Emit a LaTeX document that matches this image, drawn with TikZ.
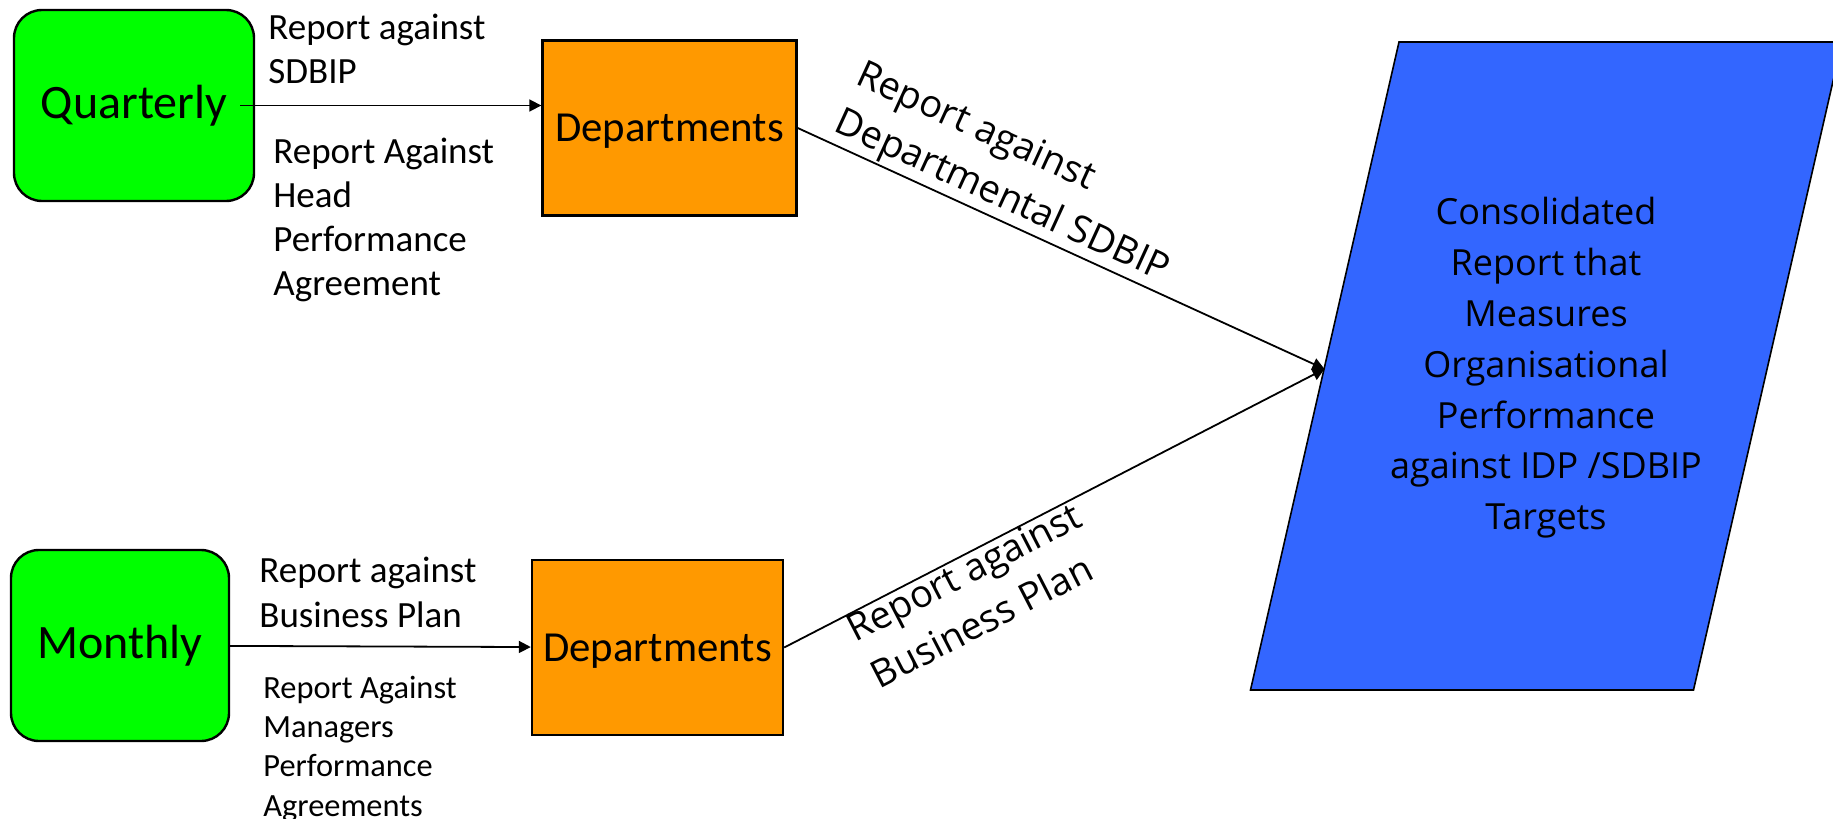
\documentclass[tikz,border=0pt]{standalone}
\usepackage{fontspec}
\setmainfont{Carlito}
\newfontfamily\opensans{Open Sans}
\usetikzlibrary{arrows.meta}
\definecolor{periodgreen}{HTML}{00FF00}
\definecolor{deptorange}{HTML}{FF9900}
\definecolor{reportblue}{HTML}{3366FF}

\begin{document}
\begin{tikzpicture}[x=0.5pt,y=-0.5pt,
	period_node/.style={draw=black,line width=1.2pt,fill=periodgreen,rounded corners=14pt,minimum height=95.5pt,inner sep=0pt,font=\fontsize{24}{28}\selectfont},
	dept_node/.style={draw=black,line width=1.2pt,fill=deptorange,minimum width=127pt,minimum height=87.5pt,inner sep=0pt,text depth=0pt,font=\fontsize{21.4}{25}\selectfont},
	note_node/.style={align=left,inner sep=0pt,anchor=west,font=\fontsize{18.5}{22}\selectfont},
	small_note_node/.style={align=left,inner sep=0pt,anchor=west,font=\fontsize{16.2}{19.6}\selectfont},
	flow_label/.style={sloped,align=left,font=\opensans\fontsize{19}{26}\selectfont},
	flow_arrow/.style={line width=0.9pt,-{Triangle[length=6pt,width=6pt]}}]

		\useasboundingbox (0,0) rectangle (1833,819);

		\node[period_node,minimum width=120pt] (quarterly) at (134,105.5) {Quarterly};
		\node[period_node,minimum width=109pt] (monthly) at (120,645.5) {Monthly};
		\node[dept_node] (dept_q) at (669.5,128) {Departments};
		\node[dept_node,minimum width=125.5pt] (dept_m) at (657.5,647.5) {Departments};

		\filldraw[fill=reportblue,line width=0.8pt] (1399,42) -- (1842,42) -- (1693.5,690) -- (1250.5,690) -- cycle;
		\node[align=center,font=\opensans\fontsize{18}{25.4}\selectfont] (consolidated) at (1546,368) {Consolidated\\Report that\\Measures\\Organisational\\Performance\\against IDP /SDBIP\\Targets};
		\coordinate (tip) at (1324.5,369);

		\node[note_node] (sdbip_note) at (268,48.5) {Report against\\SDBIP};
		\node[note_node] (head_note) at (273,220) {Report Against\\Head\\Performance\\Agreement};
		\node[note_node,font=\fontsize{18.5}{22.5}\selectfont] (plan_note) at (259,592.5) {Report against\\Business Plan};
		\node[small_note_node] (managers_note) at (263,749) {Report Against\\Managers\\Performance\\Agreements};

		\draw[flow_arrow] ([xshift=-7.5pt]quarterly.east) -- (quarterly.east -| dept_q.west);
		\draw[flow_arrow] (monthly) -- (dept_m);
		\draw[flow_arrow] (dept_q.east) -- node[flow_label,above,pos=0.37,inner sep=1pt] {Report against\\Departmental SDBIP} (tip);
		\draw[flow_arrow] (dept_m.east) -- node[flow_label,below,pos=0.32,inner sep=0pt] {Report against\\Business Plan} (tip);
		\end{tikzpicture}
\end{document}
